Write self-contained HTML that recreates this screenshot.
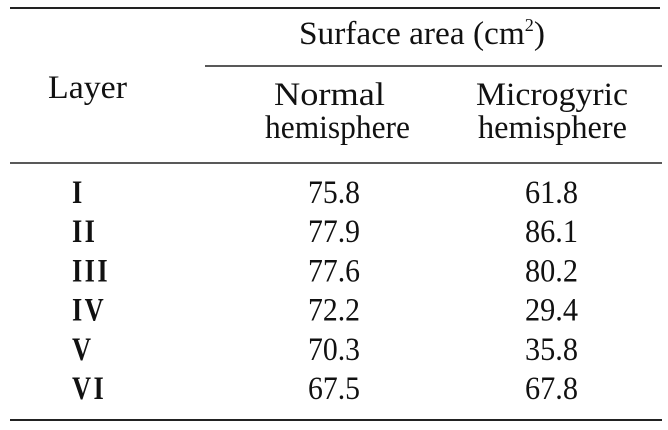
<!DOCTYPE html>
<html><head><meta charset="utf-8"><style>
html,body{margin:0;padding:0;background:#fff;}
svg{display:block;}
text{font-family:"Liberation Serif",serif;fill:#111;font-size:33px;}
</style></head><body>
<svg width="668" height="430">
<line x1="10" y1="8" x2="660" y2="8" stroke="#222" stroke-width="2"/>
<text x="299" y="44" textLength="246" lengthAdjust="spacingAndGlyphs">Surface area (cm<tspan font-size="18" dy="-13">2</tspan><tspan dy="13">)</tspan></text>
<line x1="205" y1="66" x2="662" y2="66" stroke="#222" stroke-width="1.6"/>
<text x="48" y="98" textLength="79" lengthAdjust="spacingAndGlyphs">Layer</text>
<text x="274" y="105" textLength="111" lengthAdjust="spacingAndGlyphs">Normal</text>
<text x="265" y="138" textLength="145" lengthAdjust="spacingAndGlyphs">hemisphere</text>
<text x="476" y="105" textLength="152" lengthAdjust="spacingAndGlyphs">Microgyric</text>
<text x="478" y="138" textLength="149" lengthAdjust="spacingAndGlyphs">hemisphere</text>
<line x1="10" y1="163" x2="662" y2="163" stroke="#222" stroke-width="1.6"/>
<g id="rows"></g>
<line x1="10" y1="420" x2="662" y2="420" stroke="#222" stroke-width="2"/>
</svg>
<script>
const layers=["I","II","III","IV","V","VI"];
const normalVals=["75.8","77.9","77.6","72.2","70.3","67.5"];
const microVals=["61.8","86.1","80.2","29.4","35.8","67.8"];
const g=document.getElementById('rows');
const NS="http://www.w3.org/2000/svg";
layers.forEach((l,i)=>{
  const y=203+i*39.2;
  const a=document.createElementNS(NS,'text');
  a.setAttribute('x',72);a.setAttribute('y',y);a.setAttribute('font-weight','bold');
  a.setAttribute('letter-spacing','3');
  a.setAttribute('transform','translate(72 0) scale(0.8 1) translate(-72 0)');
  a.textContent=l;
  
  
  g.appendChild(a);
  const b=document.createElementNS(NS,'text');
  b.setAttribute('x',308);b.setAttribute('y',y);b.setAttribute('textLength',52);b.setAttribute('lengthAdjust','spacingAndGlyphs');b.textContent=normalVals[i];
  
  
  g.appendChild(b);
  const c=document.createElementNS(NS,'text');
  c.setAttribute('x',525);c.setAttribute('y',y);c.setAttribute('textLength',53);c.setAttribute('lengthAdjust','spacingAndGlyphs');c.textContent=microVals[i];
  
  
  g.appendChild(c);
});
</script>
</body></html>
